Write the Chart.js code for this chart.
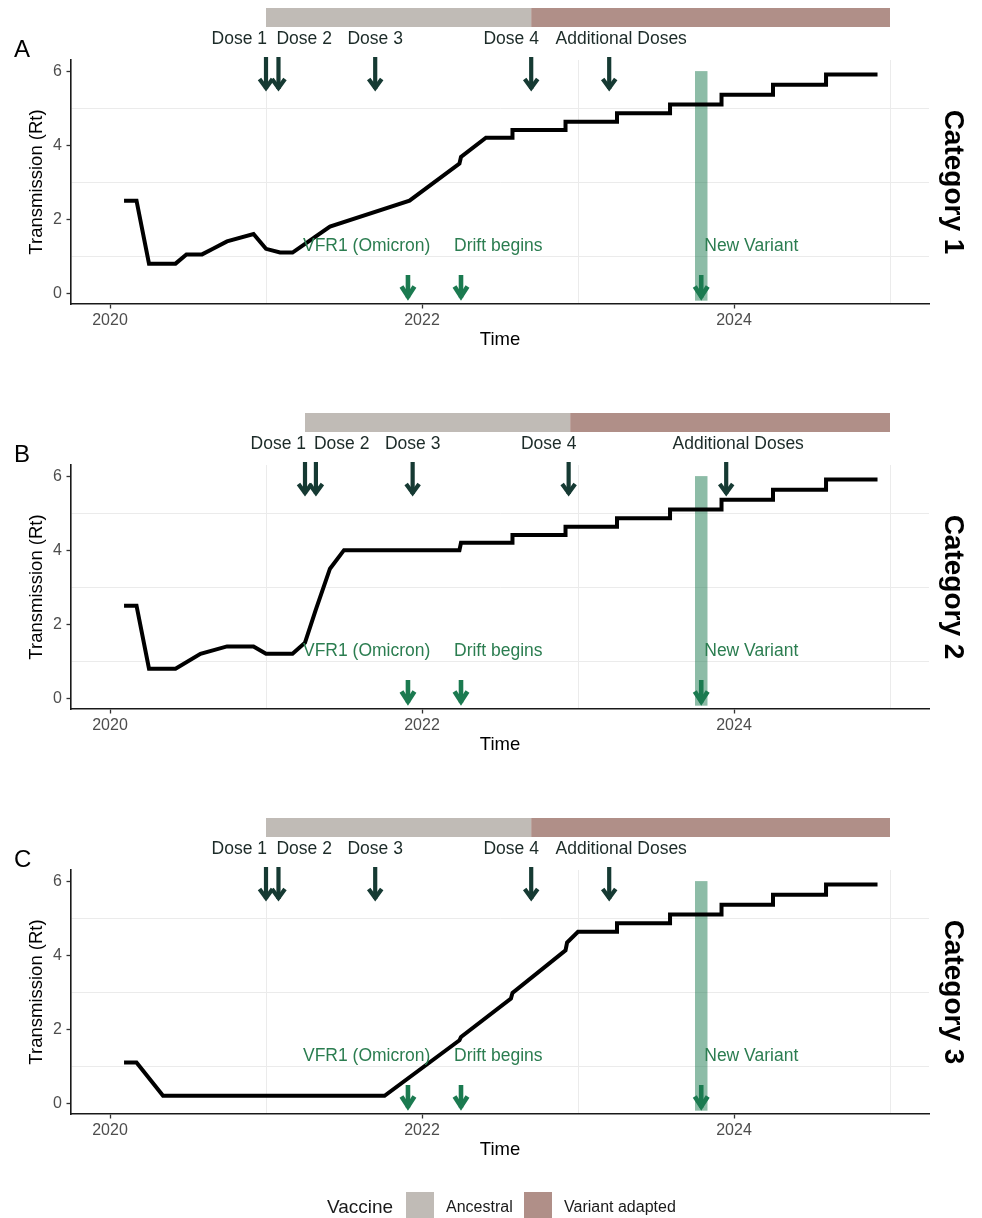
<!DOCTYPE html>
<html>
<head>
<meta charset="utf-8">
<script src="https://cdn.jsdelivr.net/npm/chart.js@4.4.1/dist/chart.umd.min.js"></script>
<style>
  html, body { margin: 0; padding: 0; background: #fff; }
  body { width: 982px; height: 1218px; position: relative; overflow: hidden; font-family: "Liberation Sans", Arial, sans-serif; }
  canvas.panel { position: absolute; left: 0; }
  .leg { position: absolute; line-height: 1; white-space: nowrap; color: #1a1a1a; }
  .sw { position: absolute; width: 28px; height: 28px; }
</style>
</head>
<body>
<canvas id="chartA" class="panel" width="982" height="405" style="top:0px"></canvas>
<canvas id="chartB" class="panel" width="982" height="405" style="top:405px"></canvas>
<canvas id="chartC" class="panel" width="982" height="405" style="top:810px"></canvas>

<div class="leg" style="left:327px; top:1197px; font-size:19px;">Vaccine</div>
<div class="sw" id="swAnc" style="left:406px; top:1192px;"></div>
<div class="leg" id="lbAnc" style="left:446px; top:1199px; font-size:16px;"></div>
<div class="sw" id="swVar" style="left:524px; top:1192px;"></div>
<div class="leg" id="lbVar" style="left:564px; top:1199px; font-size:16px;"></div>

<script>
// axes
const xTicks = [2020, 2021, 2022, 2023, 2024, 2025];
const yTicks = [0, 1, 2, 3, 4, 5, 6];

// Rt curves (time in decimal years)
const timeA = [2020.09, 2020.17, 2020.25, 2020.42, 2020.49, 2020.59, 2020.66, 2020.75, 2020.92, 2021.0, 2021.09, 2021.17, 2021.41, 2021.92, 2022.24, 2022.25, 2022.41, 2022.58, 2022.58, 2022.92, 2022.92, 2023.25, 2023.25, 2023.59, 2023.59, 2023.92, 2023.92, 2024.25, 2024.25, 2024.59, 2024.59, 2024.92];
const rtA   = [2.5, 2.5, 0.8, 0.8, 1.05, 1.05, 1.2, 1.4, 1.6, 1.2, 1.1, 1.1, 1.8, 2.5, 3.5, 3.68, 4.2, 4.2, 4.41, 4.41, 4.63, 4.63, 4.86, 4.86, 5.1, 5.1, 5.36, 5.36, 5.63, 5.63, 5.91, 5.91];

const timeB = [2020.09, 2020.17, 2020.25, 2020.42, 2020.58, 2020.75, 2020.92, 2021.0, 2021.17, 2021.25, 2021.32, 2021.41, 2021.5, 2022.24, 2022.25, 2022.58, 2022.58, 2022.92, 2022.92, 2023.25, 2023.25, 2023.59, 2023.59, 2023.92, 2023.92, 2024.25, 2024.25, 2024.59, 2024.59, 2024.92];
const rtB   = [2.5, 2.5, 0.8, 0.8, 1.2, 1.4, 1.4, 1.2, 1.2, 1.5, 2.4, 3.5, 4.0, 4.0, 4.2, 4.2, 4.41, 4.41, 4.63, 4.63, 4.86, 4.86, 5.1, 5.1, 5.36, 5.36, 5.63, 5.63, 5.91, 5.91];

const timeC = [2020.09, 2020.17, 2020.34, 2021.76, 2022.24, 2022.25, 2022.57, 2022.58, 2022.92, 2022.93, 2023.0, 2023.25, 2023.25, 2023.59, 2023.59, 2023.92, 2023.92, 2024.25, 2024.25, 2024.59, 2024.59, 2024.92];
const rtC   = [1.1, 1.1, 0.2, 0.2, 1.7, 1.79, 2.83, 2.98, 4.13, 4.34, 4.63, 4.63, 4.86, 4.86, 5.1, 5.1, 5.36, 5.36, 5.63, 5.63, 5.91, 5.91];

// vaccine doses
const doseNames = ['Dose 1', 'Dose 2', 'Dose 3', 'Dose 4', 'Additional Doses'];
const doseTimesA = [2021.0, 2021.08, 2021.7, 2022.7, 2023.2];
const doseTimesB = [2021.25, 2021.32, 2021.94, 2022.94, 2023.95];
const doseTimesC = [2021.0, 2021.08, 2021.7, 2022.7, 2023.2];

// variant events
const eventNames = ['VFR1 (Omicron)', 'Drift begins', 'New Variant'];
const eventTimes = [2021.91, 2022.25, 2023.79];
const variantBandTime = [2023.75, 2023.83];
const variantBandRt = [-0.2, 6.0];

// vaccine type periods
const vaccineNames = ['Ancestral', 'Variant adapted'];
const vaccineColors = ['#c0bbb6', '#b08f88'];
const vaccinePeriodsA = [[2021.0, 2022.7], [2022.7, 2025.0]];
const vaccinePeriodsB = [[2021.25, 2022.95], [2022.95, 2025.0]];
const vaccinePeriodsC = [[2021.0, 2022.7], [2022.7, 2025.0]];

const categories = ['Category 1', 'Category 2', 'Category 3'];
const panelLetters = ['A', 'B', 'C'];

const FONT = '"Liberation Sans", Arial, sans-serif';
Chart.defaults.font.family = FONT;

// how each label sits against its arrow: [textAlign, shift in px]
const doseLabelPlace = [['right', 1], ['left', -2], ['center', 0], ['center', -20], ['center', 12]];
const eventLabelPlace = [['left', -105], ['left', -7], ['left', 3]];

const drawArrow = (ctx, px, yTop, yTip, head, half, lw, color) => {
    ctx.strokeStyle = color;
    ctx.lineWidth = lw;
    ctx.lineCap = 'butt';
    ctx.beginPath();
    ctx.moveTo(px, yTop);
    ctx.lineTo(px, yTip - 2);
    ctx.stroke();
    ctx.lineJoin = 'miter';
    ctx.beginPath();
    ctx.moveTo(px - half, yTip - 3 - head);
    ctx.lineTo(px, yTip - 3);
    ctx.lineTo(px + half, yTip - 3 - head);
    ctx.stroke();
};

const overlay = {
    id: 'overlay',
    beforeDatasetsDraw(chart, args, o) {
        const { ctx, scales: { x, y } } = chart;
        ctx.save();
        ctx.fillStyle = 'rgba(27,122,79,0.5)';
        const x0 = x.getPixelForValue(variantBandTime[0]);
        const x1 = x.getPixelForValue(variantBandTime[1]);
        const y0 = y.getPixelForValue(variantBandRt[1]);
        const y1 = y.getPixelForValue(variantBandRt[0]);
        ctx.fillRect(x0, y0, x1 - x0, y1 - y0);
        ctx.restore();
    },
    afterDatasetsDraw(chart, args, o) {
        const { ctx, chartArea: area, scales: { x } } = chart;
        ctx.save();

        // vaccine type bars above the panel
        o.periods.forEach((p, i) => {
            const a = x.getPixelForValue(p[0]);
            const b = x.getPixelForValue(p[1]);
            ctx.fillStyle = vaccineColors[i];
            ctx.fillRect(a, area.top - 52, b - a, 19);
        });

        // dose labels + arrows
        ctx.font = '17.5px ' + FONT;
        ctx.textBaseline = 'alphabetic';
        o.doses.forEach((t, i) => {
            const px = x.getPixelForValue(t);
            ctx.fillStyle = '#1c2b28';
            ctx.textAlign = doseLabelPlace[i][0];
            ctx.fillText(doseNames[i], px + doseLabelPlace[i][1], area.top - 16.5);
            drawArrow(ctx, px, area.top - 3, area.top + 31, 9, 6.5, 4.2, '#163a33');
        });

        // variant events
        eventTimes.forEach((t, i) => {
            const px = x.getPixelForValue(t);
            ctx.fillStyle = '#2b7d50';
            ctx.textAlign = eventLabelPlace[i][0];
            ctx.fillText(eventNames[i], px + eventLabelPlace[i][1], area.bottom - 53.5);
            drawArrow(ctx, px, area.bottom - 29, area.bottom - 4.5, 10, 6.5, 4.6, '#1b7a50');
        });

        // panel letter
        ctx.fillStyle = '#000';
        ctx.textAlign = 'left';
        ctx.font = '24px ' + FONT;
        ctx.fillText(o.letter, 14, area.top - 3);

        // facet strip
        ctx.translate(945, (area.top + area.bottom) / 2);
        ctx.rotate(Math.PI / 2);
        ctx.textAlign = 'center';
        ctx.font = 'bold 28px ' + FONT;
        ctx.fillText(o.category, 0, 0);
        ctx.restore();
    }
};

const isEven = (v) => Math.round(v) % 2 === 0;
const hidden = 'rgba(0,0,0,0)';

const makePanel = (id, times, rts, doses, periods, k) => {
    return new Chart(document.getElementById(id), {
        type: 'line',
        data: {
            datasets: [{
                data: times.map((t, i) => ({ x: t, y: rts[i] })),
                borderColor: '#000',
                borderWidth: 4,
                borderJoinStyle: 'miter',
                pointRadius: 0,
                tension: 0,
                fill: false
            }]
        },
        options: {
            responsive: false,
            animation: false,
            events: [],
            layout: { padding: { left: 0, right: 53, top: 60, bottom: 0 } },
            plugins: {
                legend: { display: false },
                tooltip: { enabled: false },
                overlay: { doses: doses, periods: periods, letter: panelLetters[k], category: categories[k] }
            },
            scales: {
                x: {
                    type: 'linear',
                    min: 2019.75,
                    max: 2025.25,
                    afterBuildTicks: (s) => { s.ticks = xTicks.map((v) => ({ value: v })); },
                    afterFit: (s) => { s.height = 101; },
                    ticks: {
                        callback: (v) => isEven(v) ? String(v) : '',
                        color: '#4d4d4d',
                        font: { size: 16 },
                        padding: 2.5,
                        autoSkip: false,
                        maxRotation: 0
                    },
                    grid: {
                        color: (c) => (c.tick && !isEven(c.tick.value)) ? '#ebebeb' : hidden,
                        tickColor: (c) => (c.tick && isEven(c.tick.value)) ? '#333' : hidden,
                        tickLength: 4.5,
                        tickWidth: 1.3,
                        lineWidth: 1
                    },
                    border: { color: '#1a1a1a', width: 1.6 },
                    title: { display: true, text: 'Time', color: '#000', font: { size: 18.5 }, padding: { top: 0, bottom: 53.5 } }
                },
                y: {
                    type: 'linear',
                    min: -0.29,
                    max: 6.3,
                    afterBuildTicks: (s) => { s.ticks = yTicks.map((v) => ({ value: v })); },
                    afterFit: (s) => { s.width = 71; },
                    ticks: {
                        callback: (v) => isEven(v) ? String(v) : '',
                        color: '#4d4d4d',
                        font: { size: 16 },
                        padding: 4.5,
                        autoSkip: false
                    },
                    grid: {
                        color: (c) => (c.tick && !isEven(c.tick.value)) ? '#ebebeb' : hidden,
                        tickColor: (c) => (c.tick && isEven(c.tick.value)) ? '#333' : hidden,
                        tickLength: 4.5,
                        tickWidth: 1.3,
                        lineWidth: 1
                    },
                    border: { color: '#1a1a1a', width: 1.6 },
                    title: { display: true, text: 'Transmission (Rt)', color: '#000', font: { size: 18.5 }, padding: { top: 26, bottom: 0 } }
                }
            }
        },
        plugins: [overlay]
    });
};

makePanel('chartA', timeA, rtA, doseTimesA, vaccinePeriodsA, 0);
makePanel('chartB', timeB, rtB, doseTimesB, vaccinePeriodsB, 1);
makePanel('chartC', timeC, rtC, doseTimesC, vaccinePeriodsC, 2);

// legend
document.getElementById('swAnc').style.background = vaccineColors[0];
document.getElementById('swVar').style.background = vaccineColors[1];
document.getElementById('lbAnc').innerText = vaccineNames[0];
document.getElementById('lbVar').innerText = vaccineNames[1];
</script>
</body>
</html>
